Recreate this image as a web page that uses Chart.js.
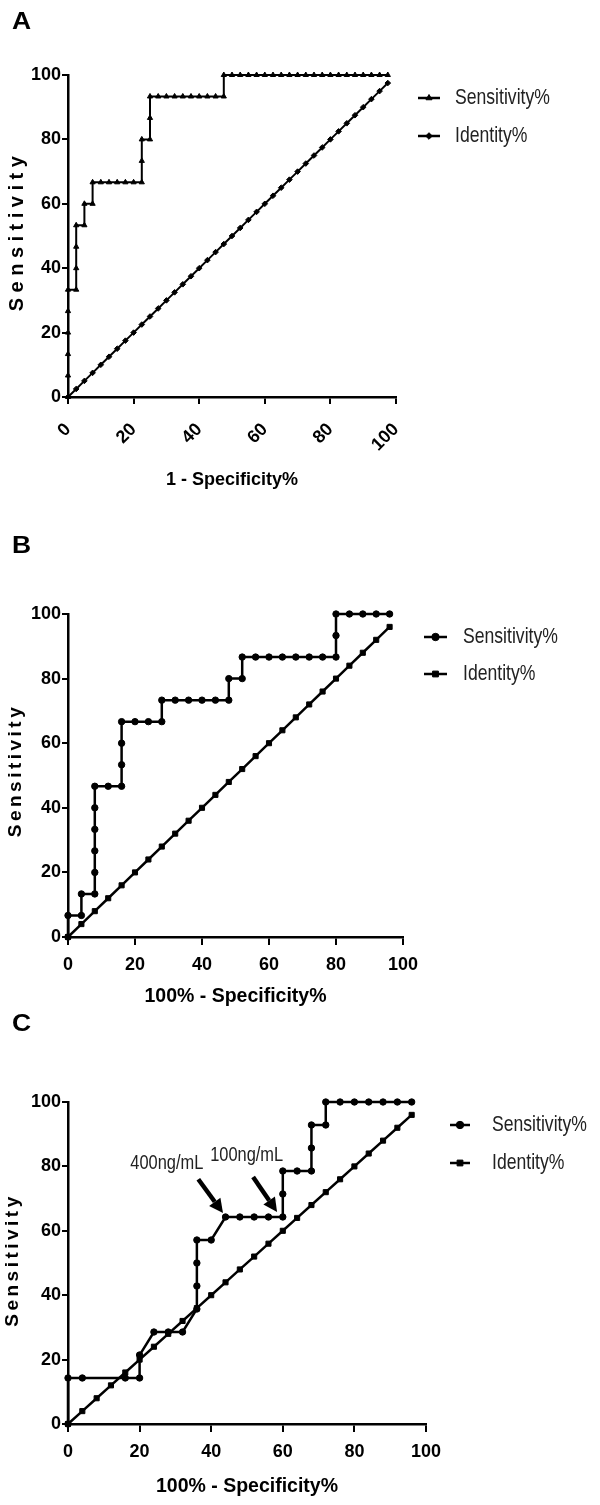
<!DOCTYPE html>
<html><head><meta charset="utf-8">
<script src="https://cdn.jsdelivr.net/npm/chart.js@4.4.1/dist/chart.umd.min.js"></script>
<style>
html,body{margin:0;padding:0;background:#fff;}
#wrap{position:relative;width:600px;height:1505px;overflow:hidden;background:#fff;}
canvas{position:absolute;left:0;top:0;}
</style></head><body>
<div id="wrap">
<canvas id="cA" width="600" height="1505" style="width:600px;height:1505px"></canvas>
<canvas id="cB" width="600" height="1505" style="width:600px;height:1505px"></canvas>
<canvas id="cC" width="600" height="1505" style="width:600px;height:1505px"></canvas>
</div>
<script>
// ---------- DATA ----------
const seriesLabels = ['Sensitivity%', 'Identity%'];
const axisTicks = [0, 20, 40, 60, 80, 100];

// Panel A
const sensA_x = [0,0,0,0,0,0,2.5,2.5,2.5,2.5,5,5,7.5,7.5,10,12.5,15,17.5,20,22.5,22.5,22.5,25,25,25,27.5,30,32.5,35,37.5,40,42.5,45,47.5,47.5,50,52.5,55,57.5,60,62.5,65,67.5,70,72.5,75,77.5,80,82.5,85,87.5,90,92.5,95,97.5];
const sensA_y = [0,6.67,13.33,20,26.67,33.33,33.33,40,46.67,53.33,53.33,60,60,66.67,66.67,66.67,66.67,66.67,66.67,66.67,73.33,80,80,86.67,93.33,93.33,93.33,93.33,93.33,93.33,93.33,93.33,93.33,93.33,100,100,100,100,100,100,100,100,100,100,100,100,100,100,100,100,100,100,100,100,100];
const identA_x = [0,2.5,5,7.5,10,12.5,15,17.5,20,22.5,25,27.5,30,32.5,35,37.5,40,42.5,45,47.5,50,52.5,55,57.5,60,62.5,65,67.5,70,72.5,75,77.5,80,82.5,85,87.5,90,92.5,95,97.5];
const identA_y = [0,2.5,5,7.5,10,12.5,15,17.5,20,22.5,25,27.5,30,32.5,35,37.5,40,42.5,45,47.5,50,52.5,55,57.5,60,62.5,65,67.5,70,72.5,75,77.5,80,82.5,85,87.5,90,92.5,95,97.5];

// Panel B
const sensB_x = [0,0,4,4,8,8,8,8,8,8,12,16,16,16,16,20,24,28,28,32,36,40,44,48,48,52,52,56,60,64,68,72,76,80,80,80,84,88,92,96];
const sensB_y = [0,6.67,6.67,13.33,13.33,20,26.67,33.33,40,46.67,46.67,46.67,53.33,60,66.67,66.67,66.67,66.67,73.33,73.33,73.33,73.33,73.33,73.33,80,80,86.67,86.67,86.67,86.67,86.67,86.67,86.67,86.67,93.33,100,100,100,100,100];
const identB_x = [0,4,8,12,16,20,24,28,32,36,40,44,48,52,56,60,64,68,72,76,80,84,88,92,96];
const identB_y = [0,4,8,12,16,20,24,28,32,36,40,44,48,52,56,60,64,68,72,76,80,84,88,92,96];

// Panel C
const sensC_x = [0,0,4,16,20,20,24,28,32,36,36,36,36,40,44,48,52,56,60,60,60,64,68,68,68,72,72,76,80,84,88,92,96];
const sensC_y = [0,14.29,14.29,14.29,14.29,21.43,28.57,28.57,28.57,35.71,42.86,50,57.14,57.14,64.29,64.29,64.29,64.29,64.29,71.43,78.57,78.57,78.57,85.71,92.86,92.86,100,100,100,100,100,100,100];
const identC_x = [0,4,8,12,16,20,24,28,32,36,40,44,48,52,56,60,64,68,72,76,80,84,88,92,96];
const identC_y = [0,4,8,12,16,20,24,28,32,36,40,44,48,52,56,60,64,68,72,76,80,84,88,92,96];

// Panel C annotations (data coordinates)
const annotLabels = ['400ng/mL', '100ng/mL'];
const annotTextX = [27.6, 49.9];
const annotTextY = [80.9, 83.4];
const arrowFromX = [36.4, 51.7];
const arrowFromY = [76.0, 76.7];
const arrowToX = [43.3, 58.4];
const arrowToY = [65.5, 65.8];

// ---------- RENDERING ----------
const SANS = "'Liberation Sans', Arial, Helvetica, sans-serif";
const CONDENSE = 0.8;

function pts(xs, ys) { return xs.map((x, i) => ({ x: x, y: ys[i] })); }

function condensedText(ctx, text, x, y, align, sx) {
  ctx.save();
  ctx.translate(x, y);
  ctx.scale(sx, 1);
  ctx.textAlign = align;
  ctx.fillText(text, 0, 0);
  ctx.restore();
}

const decor = {
  id: 'decor',
  afterDraw(chart, args, o) {
    const ctx = chart.ctx, ca = chart.chartArea;
    ctx.save();
    ctx.fillStyle = '#000'; ctx.strokeStyle = '#000';
    ctx.font = 'bold ' + o.letterSize + 'px ' + SANS;
    ctx.textAlign = 'left'; ctx.textBaseline = 'alphabetic';
    condensedText(ctx, o.letter, o.letterX, o.letterY, 'left', 1.15);
    ctx.save();
    ctx.translate(o.yTitleX, (ca.top + ca.bottom) / 2 + o.yTitleDy);
    ctx.rotate(-Math.PI / 2);
    ctx.font = 'bold ' + o.yTitleSize + 'px ' + SANS;
    if ('letterSpacing' in ctx) ctx.letterSpacing = o.yTitleSpacing + 'px';
    ctx.textAlign = 'center'; ctx.textBaseline = 'middle';
    ctx.fillText(o.yTitle, 0, 0);
    ctx.restore();
    ctx.font = o.legendSize + 'px ' + SANS;
    ctx.textBaseline = 'middle';
    chart.data.datasets.forEach((ds, i) => {
      const y = o.legendY + i * o.legendGap;
      ctx.strokeStyle = '#000'; ctx.fillStyle = '#000';
      ctx.lineWidth = 2.5;
      ctx.beginPath(); ctx.moveTo(o.legendX0, y); ctx.lineTo(o.legendX1, y); ctx.stroke();
      ctx.lineWidth = 1;
      Chart.helpers.drawPoint(ctx, { pointStyle: ds.pointStyle, radius: ds.pointRadius + 0.5, rotation: 0, borderWidth: 1 }, (o.legendX0 + o.legendX1) / 2, y);
      ctx.fillStyle = '#222';
      condensedText(ctx, ds.label, o.legendTextX, y, 'left', CONDENSE);
    });
    ctx.restore();
  }
};

const arrows = {
  id: 'arrows',
  afterDatasetsDraw(chart, args, o) {
    const ctx = chart.ctx, xs = chart.scales.x, ys = chart.scales.y;
    ctx.save();
    ctx.font = o.size + 'px ' + SANS;
    ctx.textBaseline = 'middle';
    annotLabels.forEach((t, i) => {
      ctx.fillStyle = '#222';
      condensedText(ctx, t, xs.getPixelForValue(annotTextX[i]), ys.getPixelForValue(annotTextY[i]), 'center', 0.82);
      const x0 = xs.getPixelForValue(arrowFromX[i]), y0 = ys.getPixelForValue(arrowFromY[i]);
      const x1 = xs.getPixelForValue(arrowToX[i]), y1 = ys.getPixelForValue(arrowToY[i]);
      const ang = Math.atan2(y1 - y0, x1 - x0);
      const head = 14, hw = 7;
      const bx = x1 - head * Math.cos(ang), by = y1 - head * Math.sin(ang);
      ctx.strokeStyle = '#000'; ctx.fillStyle = '#000';
      ctx.lineWidth = 4.5; ctx.lineCap = 'butt';
      ctx.beginPath(); ctx.moveTo(x0, y0); ctx.lineTo(bx, by); ctx.stroke();
      ctx.beginPath(); ctx.moveTo(x1, y1);
      ctx.lineTo(bx + hw * Math.sin(ang), by - hw * Math.cos(ang));
      ctx.lineTo(bx - hw * Math.sin(ang), by + hw * Math.cos(ang));
      ctx.closePath(); ctx.fill();
    });
    ctx.restore();
  }
};

function dataset(label, xs, ys, style, radius, width) {
  return {
    label: label, data: pts(xs, ys), showLine: true,
    borderColor: '#000', backgroundColor: '#000', borderWidth: width,
    pointStyle: style, pointRadius: radius, pointHoverRadius: radius,
    pointBorderColor: '#000', pointBackgroundColor: '#000', pointBorderWidth: 1,
    tension: 0, clip: false
  };
}

function makeChart(id, cfg) {
  const W = 600, H = 1505;
  const ca = cfg.area;
  const lh = cfg.xTitleSize * 1.2;
  const padBottom = H - cfg.xTitleY - lh / 2;
  const xAxisH = H - padBottom - ca.bottom;
  const tickFont = { family: SANS, size: cfg.tickSize, weight: 'bold' };
  const plugins = [decor];
  if (cfg.arrows) plugins.push(arrows);
  return new Chart(document.getElementById(id), {
    type: 'scatter',
    data: { datasets: cfg.datasets },
    options: {
      responsive: false, animation: false, devicePixelRatio: 1,
      events: [],
      layout: { padding: { left: 0, top: ca.top, right: W - ca.right, bottom: padBottom } },
      plugins: {
        legend: { display: false }, tooltip: { enabled: false },
        decor: cfg.decor,
        arrows: cfg.arrows || false
      },
      scales: {
        x: {
          type: 'linear', min: 0, max: 100, position: 'bottom',
          afterFit: (s) => { s.height = xAxisH; },
          afterBuildTicks: (s) => { s.ticks = axisTicks.map(v => ({ value: v })); },
          ticks: { stepSize: 20, autoSkip: false, color: '#000', font: tickFont, padding: cfg.xTickPad, minRotation: cfg.rot, maxRotation: cfg.rot },
          grid: { display: true, drawOnChartArea: false, drawTicks: true, tickLength: cfg.xTickLen, color: '#000', lineWidth: 2 },
          border: { display: true, color: '#000', width: 2.5 },
          title: { display: true, text: cfg.xTitle, color: '#000', font: { family: SANS, size: cfg.xTitleSize, weight: 'bold' }, padding: 0 }
        },
        y: {
          type: 'linear', min: 0, max: 100, position: 'left',
          afterFit: (s) => { s.width = ca.left; },
          afterBuildTicks: (s) => { s.ticks = axisTicks.map(v => ({ value: v })); },
          ticks: { stepSize: 20, autoSkip: false, color: '#000', font: tickFont, padding: 1 },
          grid: { display: true, drawOnChartArea: false, drawTicks: true, tickLength: 6, color: '#000', lineWidth: 2 },
          border: { display: true, color: '#000', width: 2.5 },
          title: { display: false }
        }
      }
    },
    plugins: plugins
  });
}

makeChart('cA', {
  area: { left: 68, right: 396, top: 75, bottom: 397 },
  xTitle: '1 - Specificity%', xTitleSize: 18, xTitleY: 480, tickSize: 18,
  rot: 45, xTickLen: 7, xTickPad: 15,
  datasets: [
    dataset(seriesLabels[0], sensA_x, sensA_y, 'triangle', 3, 2),
    dataset(seriesLabels[1], identA_x, identA_y, 'rectRot', 2.8, 2)
  ],
  decor: { letter: 'A', letterSize: 23, letterX: 12, letterY: 29,
    yTitle: 'Sensitivity', yTitleSize: 20, yTitleSpacing: 5.5, yTitleX: 17, yTitleDy: -5,
    legendSize: 22, legendX0: 418, legendX1: 440, legendTextX: 455, legendY: 98, legendGap: 38 }
});

makeChart('cB', {
  area: { left: 68, right: 403, top: 614, bottom: 937 },
  xTitle: '100% - Specificity%', xTitleSize: 19.5, xTitleY: 997, tickSize: 18,
  rot: 0, xTickLen: 8, xTickPad: 9,
  datasets: [
    dataset(seriesLabels[0], sensB_x, sensB_y, 'circle', 3.2, 2.5),
    dataset(seriesLabels[1], identB_x, identB_y, 'rect', 3.6, 2.5)
  ],
  decor: { letter: 'B', letterSize: 23, letterX: 12, letterY: 553,
    yTitle: 'Sensitivity', yTitleSize: 19, yTitleSpacing: 3.5, yTitleX: 16, yTitleDy: -5,
    legendSize: 22, legendX0: 424, legendX1: 447, legendTextX: 463, legendY: 637, legendGap: 37 }
});

makeChart('cC', {
  area: { left: 68, right: 426, top: 1102, bottom: 1424 },
  xTitle: '100% - Specificity%', xTitleSize: 19.5, xTitleY: 1487, tickSize: 18,
  rot: 0, xTickLen: 8, xTickPad: 9,
  datasets: [
    dataset(seriesLabels[0], sensC_x, sensC_y, 'circle', 3.2, 2.5),
    dataset(seriesLabels[1], identC_x, identC_y, 'rect', 3.6, 2.5)
  ],
  arrows: { size: 20 },
  decor: { letter: 'C', letterSize: 23, letterX: 12, letterY: 1031,
    yTitle: 'Sensitivity', yTitleSize: 19, yTitleSpacing: 3.5, yTitleX: 13, yTitleDy: -3,
    legendSize: 22, legendX0: 450, legendX1: 470, legendTextX: 492, legendY: 1125, legendGap: 38 }
});
</script>
</body></html>
